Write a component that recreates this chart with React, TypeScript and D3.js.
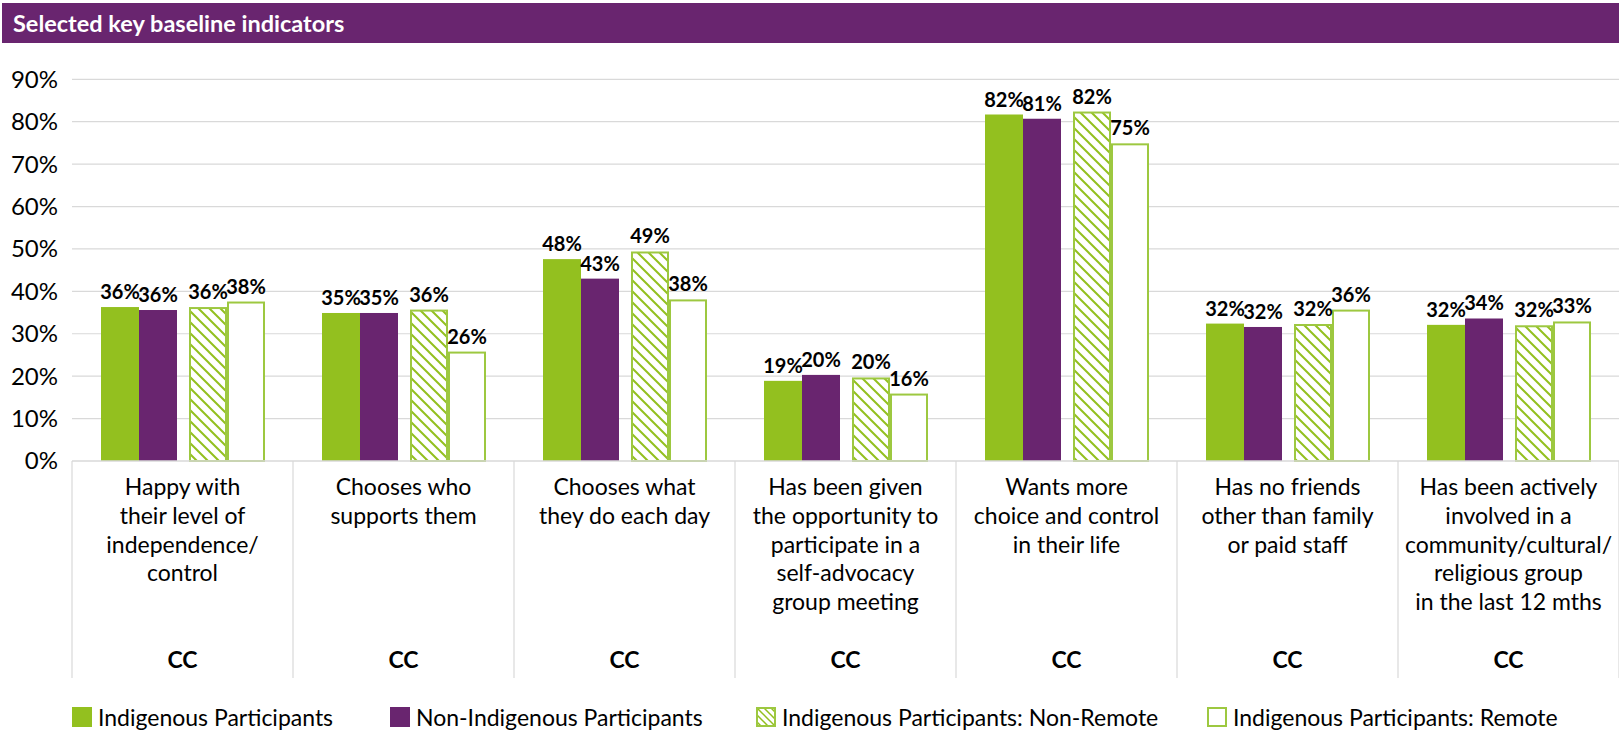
import React from "react";
import * as d3 from "d3";

const categories = [
  ["Happy with", "their level of", "independence/", "control"],
  ["Chooses who", "supports them"],
  ["Chooses what", "they do each day"],
  ["Has been given", "the opportunity to", "participate in a", "self-advocacy", "group meeting"],
  ["Wants more", "choice and control", "in their life"],
  ["Has no friends", "other than family", "or paid staff"],
  ["Has been actively", "involved in a", "community/cultural/", "religious group", "in the last 12 mths"],
];
const subLabel = "CC";

const seriesNames = [
  "Indigenous Participants",
  "Non-Indigenous Participants",
  "Indigenous Participants: Non-Remote",
  "Indigenous Participants: Remote",
];

const indigenous = [36.3, 34.9, 47.6, 18.9, 81.7, 32.4, 32.1];
const nonIndigenous = [35.6, 34.9, 43.0, 20.3, 80.7, 31.6, 33.6];
const indigenousNonRemote = [36.3, 35.7, 49.4, 19.7, 82.4, 32.3, 32.0];
const indigenousRemote = [37.6, 25.8, 38.1, 15.9, 74.9, 35.7, 32.9];

const yTicks = [0, 10, 20, 30, 40, 50, 60, 70, 80, 90];

const PURPLE = "#69256F";
const GREEN = "#93C01F";
const OUTLINE = "#9DC840";
const GRID = "#D9D9D9";
const FONT = "Lato, 'Open Sans', sans-serif";

export default function App() {
  const W = 1619;
  const H = 731;
  const x0 = 72;
  const x1 = 1619;
  const yTop = 79.3;
  const yBot = 461;

  const allSeries = [indigenous, nonIndigenous, indigenousNonRemote, indigenousRemote];

  const x = d3.scaleBand<number>().domain(d3.range(categories.length)).range([x0, x1]).padding(0);
  const pair = d3.scaleBand<number>().domain([0, 1]).range([29, 193]).paddingInner(12 / 88).paddingOuter(0);
  const inner = d3.scaleBand<number>().domain([0, 1]).range([0, pair.bandwidth()]).padding(0);
  const y = d3.scaleLinear().domain([0, 90]).range([yBot, yTop]);

  const barX = (ci: number, si: number) => (x(ci) as number) + (pair(Math.floor(si / 2)) as number) + (inner(si % 2) as number);
  const bw = inner.bandwidth();

  const fills = [GREEN, PURPLE, "url(#hatch)", "#FFFFFF"];
  const strokes = ["none", "none", OUTLINE, OUTLINE];

  const legendX = [72, 390, 756, 1207];

  return (
    <svg width={W} height={H} style={{ position: "absolute", left: 0, top: 0 }} fontFamily={FONT}>
      <defs>
        <pattern id="hatch" patternUnits="userSpaceOnUse" width={11} height={11}>
          <rect width={11} height={11} fill="#fff" />
          <path d="M-3,8 L3,14 M0,0 L11,11 M8,-3 L14,3" stroke={GREEN} strokeWidth={2} />
        </pattern>
        <pattern id="hatchL" patternUnits="userSpaceOnUse" width={7} height={7} x={756} y={707}>
          <rect width={7} height={7} fill="#fff" />
          <path d="M-2,5 L2,9 M0,0 L7,7 M5,-2 L9,2" stroke={GREEN} strokeWidth={1.5} />
        </pattern>
      </defs>

      {/* Title bar */}
      <rect x={2} y={3} width={W - 2} height={40} fill={PURPLE} />
      <text x={13} y={32} fill="#fff" fontSize={23.5} fontWeight={700}>
        Selected key baseline indicators
      </text>

      {/* grid */}
      {yTicks.map((t) => (
        <g key={t}>
          {t > 0 && <line x1={x0} x2={x1} y1={y(t)} y2={y(t)} stroke={GRID} strokeWidth={1.2} />}
          <text x={58} y={y(t)} dy="0.35em" textAnchor="end" fontSize={24} fill="#000">
            {t}%
          </text>
        </g>
      ))}

      {/* bars */}
      {allSeries.map((vals, si) =>
        vals.map((v, ci) => {
          const bx = barX(ci, si);
          const hasStroke = strokes[si] !== "none";
          return (
            <rect
              key={`${si}-${ci}`}
              x={hasStroke ? bx + 1 : bx}
              y={hasStroke ? y(v) + 1 : y(v)}
              width={hasStroke ? bw - 2 : bw}
              height={hasStroke ? y(0) - y(v) - 1 : y(0) - y(v)}
              fill={fills[si]}
              stroke={strokes[si]}
              strokeWidth={2}
            />
          );
        })
      )}

      {/* value labels */}
      {allSeries.map((vals, si) =>
        vals.map((v, ci) => (
          <text
            key={`l${si}-${ci}`}
            x={barX(ci, si) + bw / 2}
            y={y(v) - 8}
            textAnchor="middle"
            fontSize={20}
            fontWeight={700}
            fill="#000"
          >
            {Math.round(v)}%
          </text>
        ))
      )}

      {/* category axis */}
      <line x1={x0} x2={x1} y1={yBot} y2={yBot} stroke={GRID} strokeWidth={1.5} />
      {d3.range(categories.length + 1).map((i) => {
        const xx = i < categories.length ? (x(i) as number) : x1;
        return <line key={`d${i}`} x1={xx} x2={xx} y1={yBot} y2={678} stroke={GRID} strokeWidth={1.2} />;
      })}
      {categories.map((lines, ci) => {
        const cx = (x(ci) as number) + x.bandwidth() / 2;
        return (
          <g key={`c${ci}`}>
            <text textAnchor="middle" fontSize={23} fill="#000">
              {lines.map((ln, li) => (
                <tspan key={li} x={cx} y={495 + li * 28.8}>
                  {ln}
                </tspan>
              ))}
            </text>
            <text x={cx} y={668} textAnchor="middle" fontSize={23} fontWeight={700} fill="#000">
              {subLabel}
            </text>
          </g>
        );
      })}

      {/* legend */}
      {seriesNames.map((name, si) => {
        const lx = legendX[si];
        const hasStroke = si >= 2;
        return (
          <g key={`lg${si}`}>
            <rect
              x={hasStroke ? lx + 1 : lx}
              y={hasStroke ? 708 : 707}
              width={hasStroke ? 18 : 20}
              height={hasStroke ? 18 : 20}
              fill={si === 2 ? "url(#hatchL)" : si === 3 ? "#fff" : fills[si]}
              stroke={hasStroke ? OUTLINE : "none"}
              strokeWidth={2}
            />
            <text x={lx + 26} y={726} fontSize={23} fill="#000">
              {name}
            </text>
          </g>
        );
      })}
    </svg>
  );
}
